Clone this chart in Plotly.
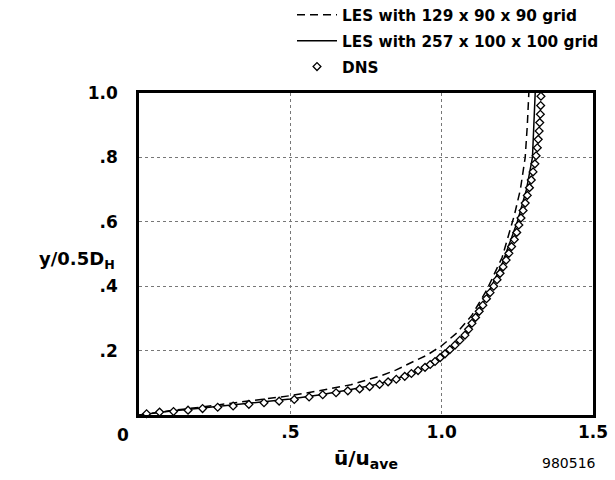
import plotly.graph_objects as go

# DNS profile (u/u_ave, y/0.5D_H)
dns_u = [0.025, 0.068, 0.114, 0.162, 0.210, 0.260, 0.311, 0.363, 0.413, 0.463,
         0.513, 0.562, 0.607, 0.651, 0.690, 0.729, 0.762, 0.795, 0.823, 0.850,
         0.878, 0.900, 0.922, 0.945, 0.962, 0.978, 0.995, 1.011, 1.027, 1.044,
         1.060, 1.077, 1.089, 1.100, 1.112, 1.124, 1.136, 1.148, 1.160, 1.172,
         1.183, 1.193, 1.203, 1.213, 1.222, 1.231, 1.240, 1.248, 1.255, 1.262,
         1.269, 1.276, 1.283, 1.290, 1.296, 1.302, 1.308, 1.312, 1.316, 1.319,
         1.322, 1.324, 1.326, 1.327, 1.328]
dns_y = [0.004, 0.009, 0.011, 0.015, 0.020, 0.024, 0.028, 0.033, 0.038, 0.043,
         0.048, 0.056, 0.063, 0.069, 0.075, 0.081, 0.088, 0.095, 0.103, 0.111,
         0.120, 0.129, 0.138, 0.148, 0.157, 0.166, 0.178, 0.190, 0.203, 0.217,
         0.232, 0.248, 0.266, 0.285, 0.303, 0.322, 0.341, 0.361, 0.380, 0.400,
         0.420, 0.440, 0.460, 0.481, 0.502, 0.523, 0.545, 0.567, 0.590, 0.612,
         0.635, 0.658, 0.682, 0.706, 0.730, 0.755, 0.780, 0.805, 0.830, 0.856,
         0.882, 0.908, 0.934, 0.961, 0.990]

# LES 257 x 100 x 100 (solid)
les257_u = [0.0, 0.05, 0.1, 0.2, 0.3, 0.4, 0.5, 0.6, 0.7, 0.8, 0.9, 0.95, 1.0,
            1.05, 1.1, 1.15, 1.2, 1.25, 1.28, 1.3, 1.305, 1.309]
les257_y = [0.0, 0.006, 0.012, 0.021, 0.030, 0.039, 0.050, 0.063, 0.079, 0.098,
            0.128, 0.150, 0.183, 0.222, 0.283, 0.370, 0.470, 0.600, 0.700, 0.800,
            0.900, 1.000]

# LES 129 x 90 x 90 (dashed)
les129_u = [0.0, 0.05, 0.1, 0.2, 0.3, 0.4, 0.5, 0.6, 0.7, 0.8, 0.85, 0.9, 0.95,
            1.0, 1.05, 1.1, 1.15, 1.2, 1.24, 1.26, 1.276, 1.283, 1.288]
les129_y = [0.0, 0.007, 0.013, 0.024, 0.036, 0.048, 0.060, 0.076, 0.094, 0.122,
            0.140, 0.163, 0.185, 0.215, 0.255, 0.310, 0.390, 0.490, 0.620, 0.700,
            0.800, 0.900, 1.000]

x_ticks = [0.5, 1.0, 1.5]
x_ticktext = [".5", "1.0", "1.5"]
y_ticks = [0.2, 0.4, 0.6, 0.8, 1.0]
y_ticktext = [".2", ".4", ".6", ".8", "1.0"]

FONT = "DejaVu Sans, Liberation Sans, sans-serif"

fig = go.Figure()
fig.add_trace(go.Scatter(x=les129_u, y=les129_y, mode="lines", name="LES with 129 x 90 x 90 grid",
                         line=dict(color="black", width=1.5, dash="8px,5px"), legendgroup="a"))
fig.add_trace(go.Scatter(x=les257_u, y=les257_y, mode="lines", name="LES with 257 x 100 x 100 grid",
                         line=dict(color="black", width=1.5), legendgroup="b"))
fig.add_trace(go.Scatter(x=dns_u, y=dns_y, mode="markers", name="DNS",
                         marker=dict(symbol="diamond", size=6, color="white",
                                     line=dict(color="black", width=1.3)),
                         legendgroup="c", cliponaxis=False))

fig.update_layout(
    width=615, height=480,
    margin=dict(l=139, r=22, t=93, b=65, autoexpand=False),
    paper_bgcolor="white", plot_bgcolor="white",
    font=dict(family=FONT, color="black"),
    showlegend=True,
    legend=dict(x=0.337, xanchor="left", y=1.294, yanchor="top", yref="paper",
                font=dict(size=15.3, family=FONT, weight="bold"), tracegroupgap=3,
                bgcolor="rgba(0,0,0,0)", itemwidth=40),
    xaxis=dict(range=[0, 1.5], tickvals=x_ticks, ticktext=x_ticktext, automargin=False,
               showgrid=True, gridcolor="#777", griddash="dot", gridwidth=1,
               showline=True, linecolor="black", linewidth=2.5, mirror=True,
               zeroline=False, ticks="", tickfont=dict(size=17, weight="bold"),
               title=dict(text="u\u0304/u<sub>ave</sub>", font=dict(size=20, weight="bold"), standoff=10)),
    yaxis=dict(range=[0, 1.0], tickvals=y_ticks, ticktext=y_ticktext, automargin=False,
               showgrid=True, gridcolor="#777", griddash="dot", gridwidth=1,
               showline=True, linecolor="black", linewidth=2.5, mirror=True,
               zeroline=False, ticks="outside", ticklen=0, ticklabelstandoff=15,
               tickfont=dict(size=17, weight="bold")),
    annotations=[
        dict(text="0", xref="paper", yref="paper", x=0, y=0, xshift=-16, yshift=-20,
             xanchor="center", yanchor="middle",
             showarrow=False, font=dict(size=17, weight="bold")),
        dict(text="y/0.5D<sub>H</sub>", xref="paper", yref="paper", x=0, y=0.48, xshift=-22,
             xanchor="right", yanchor="middle", showarrow=False, font=dict(size=18, weight="bold")),
        dict(text="980516", xref="paper", yref="paper", x=0.947, y=0, yshift=-48,
             xanchor="center", yanchor="middle",
             showarrow=False, font=dict(size=14)),
    ],
)

fig.write_html("out.html", config={"displayModeBar": False},
               post_script="document.body.style.margin='0';document.body.style.padding='0';")
